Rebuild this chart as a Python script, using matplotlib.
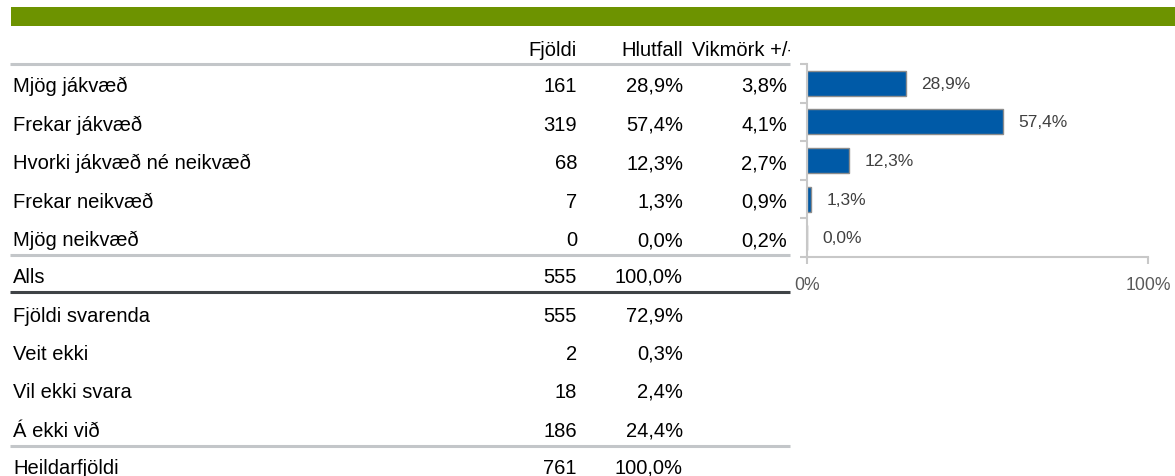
import matplotlib
matplotlib.use("Agg")
import matplotlib.pyplot as plt
from matplotlib.transforms import Bbox, TransformedBbox

plt.rcParams['font.family'] = ['Liberation Sans', 'DejaVu Sans']

# ---- data ----
categories = ['Mjög jákvæð', 'Frekar jákvæð', 'Hvorki jákvæð né neikvæð',
              'Frekar neikvæð', 'Mjög neikvæð']
counts = [161, 319, 68, 7, 0]
shares = [28.9, 57.4, 12.3, 1.3, 0.0]
margins = [3.8, 4.1, 2.7, 0.9, 0.2]

total_label = 'Alls'
total_count = 555
total_share = 100.0

extra_labels = ['Fjöldi svarenda', 'Veit ekki', 'Vil ekki svara', 'Á ekki við']
extra_counts = [555, 2, 18, 186]
extra_shares = [72.9, 0.3, 2.4, 24.4]

grand_label = 'Heildarfjöldi'
grand_count = 761
grand_share = 100.0

headers = ['Fjöldi', 'Hlutfall', 'Vikmörk +/-']
xticks = [0, 100]
xtick_labels = ['0%', '100%']


def pct(v):
    return f"{v:.1f}".replace('.', ',') + '%'


W, H = 1175, 477
fig = plt.figure(figsize=(W / 100, H / 100), dpi=100)

# table layer in pixel coordinates (y down)
tab = fig.add_axes([0, 0, 1, 1])
tab.set_xlim(0, W)
tab.set_ylim(H, 0)
tab.axis('off')

tab.axhspan(8, 27, xmin=11 / W, xmax=1, color='#6d9300', lw=0)

fs = 14.5
x_lab, x_cnt, x_shr, x_mrg = 13, 577, 683, 787


def cell(x, y, s, ha='right'):
    return tab.text(x, y, s, ha=ha, va='baseline', fontsize=fs, color='#000000')


# headers
cell(x_cnt, 56, headers[0])
cell(x_shr, 56, headers[1])
hv = cell(692, 56, headers[2], ha='left')
hv.set_clip_box(TransformedBbox(Bbox([[0, 0], [790, H]]), tab.transData))
hv.set_clip_on(True)

row_y = [92, 131, 169.5, 208, 246.5]
for y, lab, c, s, m in zip(row_y, categories, counts, shares, margins):
    cell(x_lab, y, lab, ha='left')
    cell(x_cnt, y, str(c))
    cell(x_shr, y, pct(s))
    cell(x_mrg, y, pct(m))

y_tot = 283
cell(x_lab, y_tot, total_label, ha='left')
cell(x_cnt, y_tot, str(total_count))
cell(x_shr, y_tot, pct(total_share))

extra_y = [322, 360, 398, 437]
for y, lab, c, s in zip(extra_y, extra_labels, extra_counts, extra_shares):
    cell(x_lab, y, lab, ha='left')
    cell(x_cnt, y, str(c))
    cell(x_shr, y, pct(s))

y_grand = 474
cell(x_lab, y_grand, grand_label, ha='left')
cell(x_cnt, y_grand, str(grand_count))
cell(x_shr, y_grand, pct(grand_share))

# separator lines
tab.hlines([65, 256, 447], 10, 790, color='#c3c6c9', lw=2.2)
tab.hlines([293], 10, 790, color='#3f4346', lw=2.2)

# bar chart
ax = fig.add_axes([807 / W, 1 - 258 / H, (1148 - 807) / W, (258 - 65) / H])
ypos = list(range(len(categories)))
ax.barh(ypos, shares, height=0.65, color='#005aa7', edgecolor='#8c8c8c', lw=1)
for y, s in zip(ypos, shares):
    ax.annotate(pct(s), (s, y), xytext=(11, 0), textcoords='offset points',
                ha='left', va='center', fontsize=12.5, color='#404040')
ax.set_xlim(0, 100)
ax.set_ylim(len(categories) - 0.5, -0.5)
ax.set_yticks([i - 0.5 for i in range(len(categories) + 1)])
ax.set_yticklabels([])
ax.set_xticks(xticks)
ax.set_xticklabels(xtick_labels)
ax.tick_params(axis='x', colors='#c8c8c8', labelcolor='#595959', labelsize=12.7,
               length=5, width=1.5, pad=9)
ax.tick_params(axis='y', colors='#c8c8c8', length=5, width=1.5)
for side in ['top', 'right']:
    ax.spines[side].set_visible(False)
for side in ['left', 'bottom']:
    ax.spines[side].set_color('#c8c8c8')
    ax.spines[side].set_linewidth(1.5)
ax.patch.set_alpha(0)

fig.savefig('out.png', dpi=100)
